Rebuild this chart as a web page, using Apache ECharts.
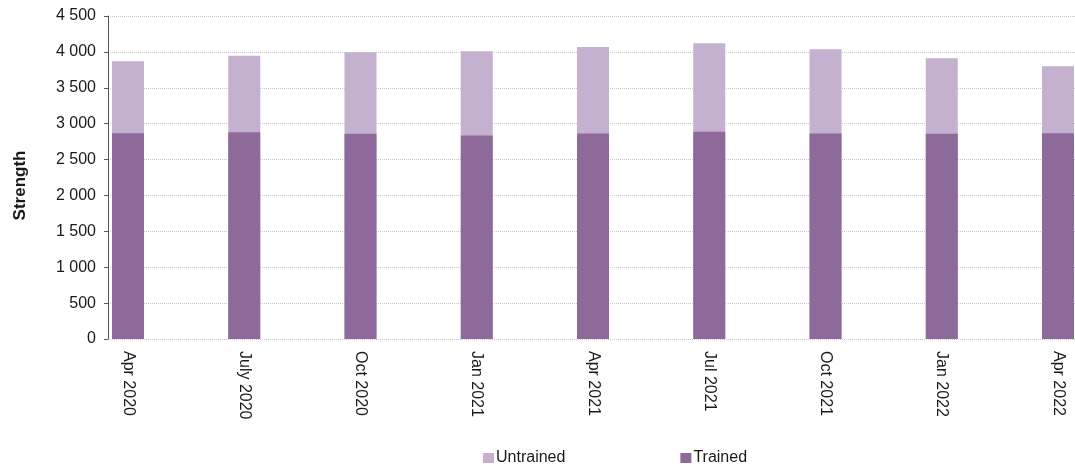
<!DOCTYPE html>
<html>
<head>
<meta charset="utf-8">
<script src="https://cdn.jsdelivr.net/npm/echarts@6/dist/echarts.min.js"></script>
<style>
  html, body { margin: 0; padding: 0; background: #fff; }
  #chart { width: 1075px; height: 469px; }
</style>
</head>
<body>
<div id="chart"></div>
<script>
// Quarterly strength, split into trained and untrained personnel
const categories = ['Apr 2020', 'July 2020', 'Oct 2020', 'Jan 2021', 'Apr 2021', 'Jul 2021', 'Oct 2021', 'Jan 2022', 'Apr 2022'];
const trained   = [2868, 2882, 2859, 2836, 2864, 2887, 2864, 2859, 2868];
const untrained = [1000, 1064, 1135, 1172, 1204, 1232, 1172, 1051, 931];

const FONT = 'Liberation Sans, Arial, sans-serif';
const TEXT = '#1a1a1a';
const DARK = '#8e6a9b';
const LIGHT = '#c4b0cf';

// quarters sit at integer positions on a numeric x scale,
// padded so the first bar starts just right of the value axis
const positions = categories.map((_, i) => i);
const X_MIN = -0.172;
const X_MAX = 8.146;

// untrained sits on top of trained: its column reaches the quarter's total
const totals = positions.map(i => trained[i] + untrained[i]);

const chart = echarts.init(document.getElementById('chart'));

chart.setOption({
  animation: false,
  textStyle: { fontFamily: FONT },
  grid: { left: 108, right: 0, top: 16, bottom: 130 },
  legend: {
    data: ['Untrained', 'Trained'],
    left: 478,
    top: 445,
    itemWidth: 11,
    itemHeight: 10,
    itemGap: 115,
    icon: 'rect',
    textStyle: { fontFamily: FONT, fontSize: 16, color: TEXT, padding: [0, 0, 0, -3] }
  },
  xAxis: {
    type: 'value',
    min: X_MIN,
    max: X_MAX,
    axisLine: { show: false, onZero: false },
    axisTick: { show: false },
    splitLine: { show: false },
    axisLabel: {
      customValues: positions,
      showMinLabel: true,
      showMaxLabel: true,
      rotate: -90,
      margin: 12,
      fontFamily: FONT,
      fontSize: 16,
      color: TEXT,
      formatter: v => categories[Math.round(v)] || ''
    }
  },
  yAxis: {
    type: 'value',
    min: 0,
    max: 4500,
    interval: 500,
    name: 'Strength',
    nameLocation: 'middle',
    nameGap: 79,
    nameTextStyle: { fontFamily: FONT, fontSize: 17, fontWeight: 'bold', color: TEXT, padding: [0, 16, 0, 0] },
    axisLine: { show: true, onZero: false, lineStyle: { color: '#595959', width: 1 } },
    axisTick: { show: true, length: 4, lineStyle: { color: '#595959' } },
    axisLabel: {
      margin: 12,
      fontFamily: FONT,
      fontSize: 16,
      color: TEXT,
      formatter: v => String(v).replace(/\B(?=(\d{3})+(?!\d))/g, ' ')
    },
    splitLine: { show: true, lineStyle: { color: '#c8c8c8', type: 'dotted', width: 1 } }
  },
  series: [
    {
      name: 'Untrained',
      type: 'bar',
      barWidth: 32,
      barGap: '-100%',
      z: 2,
      itemStyle: { color: LIGHT },
      data: positions.map(i => [i, totals[i]])
    },
    {
      name: 'Trained',
      type: 'bar',
      barWidth: 32,
      barGap: '-100%',
      z: 3,
      itemStyle: { color: DARK },
      data: positions.map(i => [i, trained[i]])
    }
  ]
});
</script>
</body>
</html>
